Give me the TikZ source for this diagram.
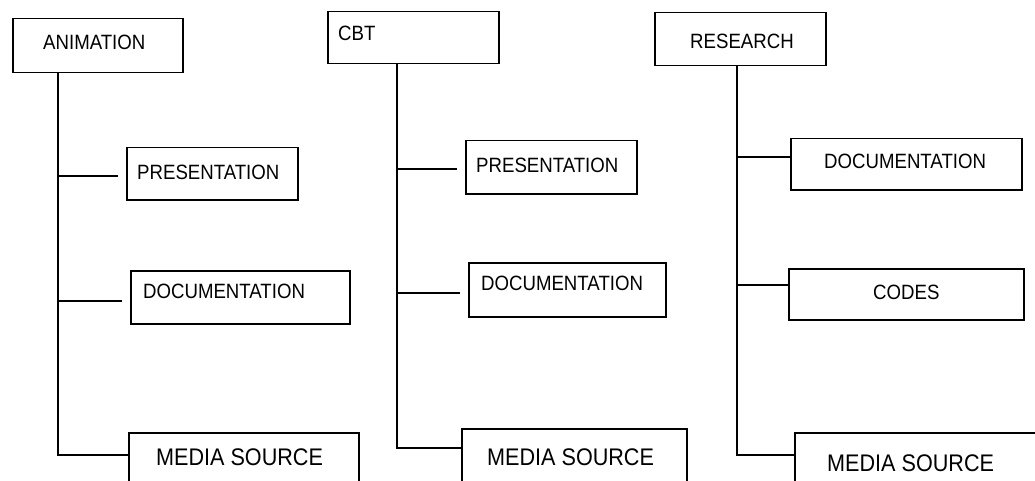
\documentclass[tikz,border=0pt]{standalone}
\usepackage{fontspec}
\newfontfamily\chartfont[FakeStretch=0.9]{Liberation Sans}
\usepackage{tikz}

\tikzset{
  box/.style={draw, line width=1.5pt, inner sep=0pt, anchor=north west},
  boxtext/.style={anchor=west, inner sep=0pt, font=\chartfont\fontsize{20.7}{24}\selectfont},
  mediatext/.style={anchor=west, inner sep=0pt, font=\chartfont\fontsize{24}{28}\selectfont},
  link/.style={line width=1.5pt}
}

\begin{document}
\begin{tikzpicture}[x=1pt,y=-1pt]
  \clip (0,0) rectangle (1035,481);
  \fill[white] (0,0) rectangle (1035,481);

  % top boxes
  \node[box, minimum width=170pt, minimum height=54pt] (anim) at (12,18) {};
  \node[boxtext] (animlbl) at (43,42) {ANIMATION};
  \node[box, minimum width=171pt, minimum height=52pt] (cbt) at (327,11) {};
  \node[boxtext] (cbtlbl) at (338,33) {CBT};
  \node[box, minimum width=171pt, minimum height=53pt] (res) at (654,12) {};
  \node[boxtext] (reslbl) at (690,41) {RESEARCH};

  % animation column
  \node[box, minimum width=171pt, minimum height=52pt] (animpres) at (126,147) {};
  \node[boxtext] (animpreslbl) at (137,172) {PRESENTATION};
  \node[box, minimum width=219pt, minimum height=53pt] (animdoc) at (130,270) {};
  \node[boxtext] (animdoclbl) at (143,291) {DOCUMENTATION};
  \node[box, minimum width=230pt, minimum height=80pt] (animmed) at (128,432) {};
  \node[mediatext] (animmedlbl) at (156,457) {MEDIA SOURCE};

  % cbt column
  \node[box, minimum width=171pt, minimum height=53pt] (cbtpres) at (465,140) {};
  \node[boxtext] (cbtpreslbl) at (476,165) {PRESENTATION};
  \node[box, minimum width=197pt, minimum height=54pt] (cbtdoc) at (468,262) {};
  \node[boxtext] (cbtdoclbl) at (481,283) {DOCUMENTATION};
  \node[box, minimum width=225pt, minimum height=80pt] (cbtmed) at (461,428) {};
  \node[mediatext] (cbtmedlbl) at (487,457) {MEDIA SOURCE};

  % research column
  \node[box, minimum width=231pt, minimum height=51pt] (resdoc) at (790,138) {};
  \node[boxtext] (resdoclbl) at (824,161) {DOCUMENTATION};
  \node[box, minimum width=235pt, minimum height=51pt] (rescode) at (788,268) {};
  \node[boxtext] (rescodelbl) at (873,292) {CODES};
  \node[box, minimum width=260pt, minimum height=80pt] (resmed) at (794,432) {};
  \node[mediatext] (resmedlbl) at (827,463) {MEDIA SOURCE};

  % trunks and branches
  \coordinate (animtop) at (58,72);
  \coordinate (animrowa) at (58,176);
  \coordinate (animrowb) at (58,301);
  \coordinate (animrowc) at (58,455);
  \draw[link] (animtop) |- (animmed.west |- animrowc);
  \draw[link, shorten >=8pt] (animrowa) -- (animpres.west |- animrowa);
  \draw[link, shorten >=8pt] (animrowb) -- (animdoc.west |- animrowb);

  \coordinate (cbttop) at (397,63);
  \coordinate (cbtrowa) at (397,169);
  \coordinate (cbtrowb) at (397,293);
  \coordinate (cbtrowc) at (397,448);
  \draw[link] (cbttop) |- (cbtmed.west |- cbtrowc);
  \draw[link, shorten >=8pt] (cbtrowa) -- (cbtpres.west |- cbtrowa);
  \draw[link, shorten >=8pt] (cbtrowb) -- (cbtdoc.west |- cbtrowb);

  \coordinate (restop) at (737,65);
  \coordinate (resrowa) at (737,157);
  \coordinate (resrowb) at (737,285);
  \coordinate (resrowc) at (737,455);
  \draw[link] (restop) |- (resmed.west |- resrowc);
  \draw[link] (resrowa) -- (resdoc.west |- resrowa);
  \draw[link] (resrowb) -- (rescode.west |- resrowb);
\end{tikzpicture}
\end{document}
